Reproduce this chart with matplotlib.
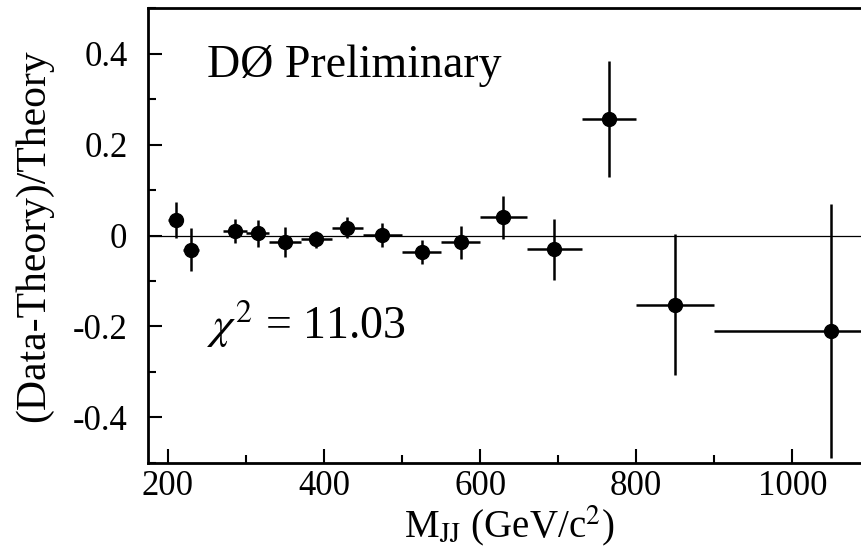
import matplotlib
matplotlib.use("Agg")
import matplotlib.pyplot as plt
from matplotlib.ticker import MultipleLocator, FixedLocator, FixedFormatter

plt.rcParams["font.family"] = ["Liberation Serif", "DejaVu Serif"]
plt.rcParams["mathtext.fontset"] = "stix"

# bin centres and half widths (GeV/c^2)
mass = [210, 230, 286, 315, 350, 390, 430, 475, 525, 575, 630, 695, 765, 850, 1050]
half_width = [10, 10, 15, 15, 20, 20, 20, 25, 25, 25, 30, 35, 35, 50, 150]
# (Data-Theory)/Theory and its error
ratio = [0.034, -0.031, 0.010, 0.005, -0.014, -0.008, 0.017, 0.001,
         -0.037, -0.015, 0.040, -0.030, 0.257, -0.152, -0.210]
ratio_err = [0.040, 0.048, 0.026, 0.030, 0.033, 0.019, 0.023, 0.027,
             0.026, 0.036, 0.048, 0.067, 0.128, 0.155, 0.279]

y_ticks = [-0.4, -0.2, 0.0, 0.2, 0.4]
y_labels = ["-0.4", "-0.2", "0", "0.2", "0.4"]

fig = plt.figure(figsize=(8.62, 5.48), dpi=100)
ax = fig.add_axes([148.3 / 862, 1 - 462.7 / 548, 722.1 / 862, 454.4 / 548])

ax.axhline(0, color="black", lw=0.9, zorder=1)
ax.errorbar(mass, ratio, xerr=half_width, yerr=ratio_err, fmt="o",
            color="black", ms=10, elinewidth=1.8, capsize=0, zorder=3)

ax.set_xlim(175, 1100)
ax.set_ylim(-0.5, 0.5)
ax.xaxis.set_major_locator(MultipleLocator(200))
ax.xaxis.set_minor_locator(MultipleLocator(100))
ax.yaxis.set_major_locator(FixedLocator(y_ticks))
ax.yaxis.set_major_formatter(FixedFormatter(y_labels))
ax.yaxis.set_minor_locator(MultipleLocator(0.1))

ax.tick_params(which="both", direction="in", width=1.5, top=False, right=False)
ax.tick_params(which="major", length=10)
ax.tick_params(which="minor", length=6)
ax.tick_params(axis="x", which="major", labelsize=25, pad=5)
ax.tick_params(axis="y", which="major", labelsize=25, pad=15)

for side in ["left", "bottom", "top"]:
    ax.spines[side].set_linewidth(2)
ax.spines["right"].set_visible(False)

ax.set_ylabel("(Data-Theory)/Theory", fontsize=30)
ax.yaxis.set_label_coords(-0.132, 0.5)
ax.set_xlabel(r"M$_{\rm JJ}$ (GeV/c$^2$)", fontsize=28, labelpad=0)

ax.text(0.081, 0.849, "DØ Preliminary", transform=ax.transAxes,
        fontsize=33, va="baseline", ha="left")
ax.text(0.081, 0.272, r"$\chi^2$ = 11.03", transform=ax.transAxes,
        fontsize=33, va="baseline", ha="left")

fig.savefig("out.png", dpi=100)
